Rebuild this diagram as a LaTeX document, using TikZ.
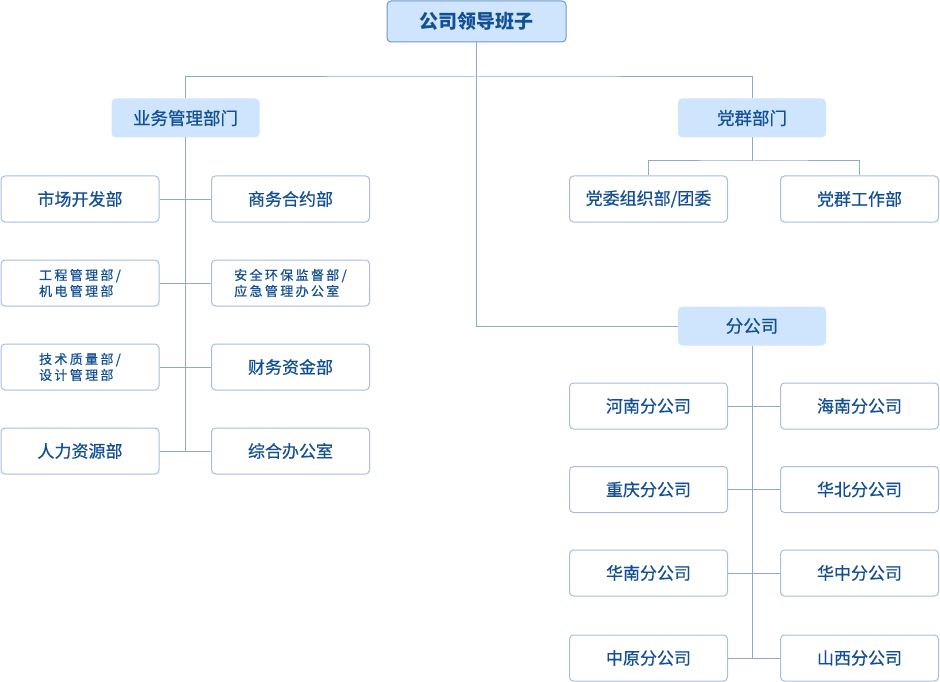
\documentclass[tikz,border=0pt]{standalone}
\usepackage{fontspec}
\setmainfont{Noto Sans CJK SC}
\newfontfamily\cjkmid[FakeBold=0.5]{Noto Sans CJK SC}
\newfontfamily\cjkwide[LetterSpace=18,FakeBold=0.5]{Noto Sans CJK SC}
\definecolor{linecol}{HTML}{8EA9D0}
\definecolor{boxline}{HTML}{A7BEDD}
\definecolor{topline}{HTML}{7097C8}
\definecolor{headfill}{HTML}{CFE5FD}
\definecolor{txtcol}{HTML}{124F93}
\begin{document}
\begin{tikzpicture}[x=1pt,y=-1pt,
    link/.style={draw=linecol, line width=1pt},
    box/.style={draw=boxline, line width=1pt, rounded corners=4pt, fill=white, minimum width=158pt, minimum height=46pt, inner sep=0pt, text=txtcol, font=\cjkmid\fontsize{17}{20}\selectfont},
    twoline/.style={box, align=left, font=\cjkwide\fontsize{13}{16}\selectfont},
    head/.style={box, draw=headfill, fill=headfill, minimum width=147pt, minimum height=38pt, font=\cjkmid\fontsize{17.5}{20}\selectfont}]
    \useasboundingbox (0,0) rectangle (940,682);
    % top
    \node[box, draw=topline, fill=headfill, minimum width=179pt, minimum height=41pt, font=\bfseries\fontsize{19}{22}\selectfont] (top) at (476.5,21.5) {公司领导班子};
    \node[head] (ywb) at (185.5,118) {业务管理部门};
    \node[head] (dqb) at (752,118) {党群部门};
    \node[head] (fgs) at (752,326) {分公司};
    % left group
    \node[box] (yw1) at (80,199) {市场开发部};
    \node[box] (yw2) at (290.5,199) {商务合约部};
    \node[twoline] (yw3) at (80,283) {工程管理部/\\机电管理部};
    \node[twoline] (yw4) at (290.5,283) {安全环保监督部/\\应急管理办公室};
    \node[twoline] (yw5) at (80,367) {技术质量部/\\设计管理部};
    \node[box] (yw6) at (290.5,367) {财务资金部};
    \node[box] (yw7) at (80,451) {人力资源部};
    \node[box] (yw8) at (290.5,451) {综合办公室};
    % right group
    \node[box] (dq1) at (648.5,199) {党委组织部/团委};
    \node[box] (dq2) at (859.5,199) {党群工作部};
    \node[box] (fg1) at (648.5,406) {河南分公司};
    \node[box] (fg2) at (859.5,406) {海南分公司};
    \node[box] (fg3) at (648.5,489.5) {重庆分公司};
    \node[box] (fg4) at (859.5,489.5) {华北分公司};
    \node[box] (fg5) at (648.5,573) {华南分公司};
    \node[box] (fg6) at (859.5,573) {华中分公司};
    \node[box] (fg7) at (648.5,658) {中原分公司};
    \node[box] (fg8) at (859.5,658) {山西分公司};
    \coordinate (topjoin) at (476.5,77);
    \coordinate (dqjoin) at (754,161);
    % links
    \draw[link] (top.south) |- (fgs.west);
    \draw[link] (ywb.north) |- (topjoin) -| (dqb.north);
    \draw[link] (ywb.south) -- (ywb.south |- yw7.east);
    \draw[link] (yw1.east) -- (yw2.west);
    \draw[link] (yw3.east) -- (yw4.west);
    \draw[link] (yw5.east) -- (yw6.west);
    \draw[link] (yw7.east) -- (yw8.west);
    \draw[link] (dqb.south) -- (dqb.south |- dqjoin);
    \draw[link] (dq1.north) |- (dqjoin) -| (dq2.north);
    \draw[link] (fgs.south) -- (fgs.south |- fg7.east);
    \draw[link] (fg1.east) -- (fg2.west);
    \draw[link] (fg3.east) -- (fg4.west);
    \draw[link] (fg5.east) -- (fg6.west);
    \draw[link] (fg7.east) -- (fg8.west);
\end{tikzpicture}
\end{document}
